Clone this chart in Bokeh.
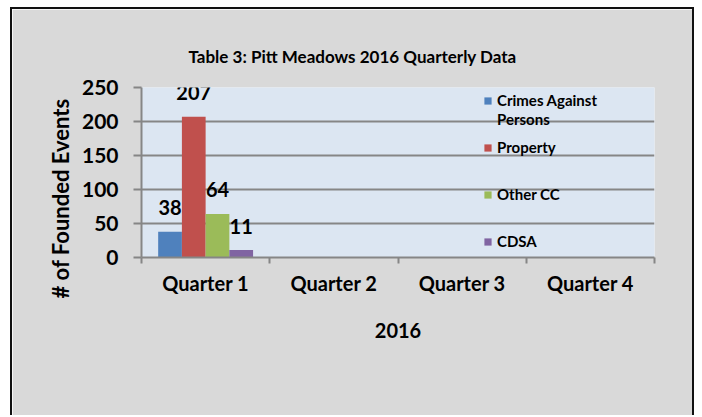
from bokeh.plotting import figure
from bokeh.models import (ColumnDataSource, FactorRange, Range1d, LinearAxis,
                          FixedTicker, Legend, LegendItem, LabelSet, Title)
from bokeh.transform import dodge
from bokeh.core.properties import value
from bokeh.embed import file_html
from bokeh.resources import INLINE

# ---------------- data ----------------
chart_title = "Table 3: Pitt Meadows 2016 Quarterly Data"
quarters = ["Quarter 1", "Quarter 2", "Quarter 3", "Quarter 4"]
series_labels = ["Crimes Against", "Property", "Other CC", "CDSA"]
first_label_continuation = "Persons"
crimes_against_persons = [38, None, None, None]
property_crimes = [207, None, None, None]
other_cc = [64, None, None, None]
cdsa = [11, None, None, None]
y_ticks = [0, 50, 100, 150, 200, 250]
x_title = "2016"
y_title = "# of Founded Events"
colors = ["#4f81bd", "#c0504d", "#9bbb59", "#8064a2"]

FONT = "Lato"
GRID = "#868686"

series = [crimes_against_persons, property_crimes, other_cc, cdsa]
rows = [i for i in range(len(quarters)) if any(s[i] is not None for s in series)]
data = {"quarter": [quarters[i] for i in rows]}
for k, s in enumerate(series):
    data[f"s{k}"] = [s[i] for i in rows]
    data[f"t{k}"] = [str(s[i]) for i in rows]
source = ColumnDataSource(data)

p = figure(x_range=FactorRange(factors=quarters, range_padding=0),
           y_range=Range1d(0, 250),
           width=684, height=408, output_backend="svg", toolbar_location=None,
           min_border_left=129, min_border_right=42, min_border_top=78,
           min_border_bottom=160,
           background_fill_color="#dce6f2", border_fill_color="#d9d9d9",
           outline_line_color=None)
p.styles = {"margin-left": "10px", "margin-top": "7px",
            "border-top": "2px solid #111111", "border-left": "2px solid #111111",
            "border-right": "2px solid #111111"}

p.title.text = chart_title
p.title.align = "left"
p.title.offset = 47
p.title.standoff = 42
p.title.text_font = FONT
p.title.text_font_size = "17px"
p.title.text_font_style = "bold"
p.title.text_color = "black"

# y axis
p.yaxis.ticker = FixedTicker(ticks=y_ticks)
p.yaxis.major_label_text_font = FONT
p.yaxis.major_label_text_font_size = "21px"
p.yaxis.major_label_text_font_style = "bold"
p.yaxis.major_label_text_color = "black"
p.yaxis.major_tick_in = 0
p.yaxis.major_tick_out = 8
p.yaxis.major_tick_line_color = GRID
p.yaxis.major_tick_line_width = 2
p.yaxis.minor_tick_line_color = None
p.yaxis.axis_line_color = GRID
p.yaxis.axis_line_width = 2
p.yaxis.major_label_standoff = 15
p.ygrid.grid_line_color = GRID
p.ygrid.grid_line_width = 2
p.xgrid.grid_line_color = None

# y axis title (placed in the left panel, starting below the frame like the reference)
p.add_layout(Title(text=y_title, align="left", offset=-41, standoff=9,
                   text_font=FONT, text_font_size="22px", text_font_style="bold",
                   text_color="black"), "left")

# x axis (categorical labels)
cat_axis = p.xaxis[0]
cat_axis.major_tick_line_color = None
cat_axis.axis_line_color = None
cat_axis.major_label_text_font = FONT
cat_axis.major_label_text_font_size = "20px"
cat_axis.major_label_text_font_style = "bold"
cat_axis.major_label_text_color = "black"
cat_axis.major_label_standoff = 1
cat_axis.axis_label = x_title
cat_axis.axis_label_text_font = FONT
cat_axis.axis_label_text_font_size = "20px"
cat_axis.axis_label_text_font_style = "bold"
cat_axis.axis_label_text_color = "black"
cat_axis.axis_label_standoff = 25

# boundary tick marks between categories (synthetic coordinates 0..4)
tick_axis = LinearAxis(ticker=FixedTicker(ticks=list(range(len(quarters) + 1))),
                       major_label_text_font_size="0px", major_label_text_color=None,
                       major_label_standoff=0,
                       major_tick_in=0, major_tick_out=6,
                       major_tick_line_color=GRID, major_tick_line_width=2,
                       minor_tick_line_color=None,
                       axis_line_color=GRID, axis_line_width=2)
p.below = [tick_axis, cat_axis]

# bars
width = 0.185
offsets = [-1.5 * width, -0.5 * width, 0.5 * width, 1.5 * width]
items = []
for k in range(4):
    r = p.vbar(x=dodge("quarter", offsets[k], range=p.x_range), top=f"s{k}",
               width=width, source=source, color=colors[k], line_color=None)
    items.append(LegendItem(label=series_labels[k], renderers=[r]))
    p.add_layout(LabelSet(x=dodge("quarter", offsets[k], range=p.x_range),
                          y=f"s{k}", text=f"t{k}", source=source,
                          y_offset=24, text_align="center", text_baseline="middle",
                          text_font=value(FONT), text_font_size="20px",
                          text_font_style="bold", text_color="black"))

legend_style = dict(orientation="vertical", background_fill_alpha=0,
                    border_line_color=None, padding=0, margin=0,
                    label_height=20, glyph_width=9, glyph_height=9,
                    label_standoff=5, label_text_font=FONT,
                    label_text_font_size="15px", label_text_font_style="bold",
                    label_text_color="black")
legend = Legend(items=items, location=(342, 6), spacing=27, **legend_style)
p.add_layout(legend, "center")

# second line of the first legend entry (no swatch)
ghost = p.vbar(x=dodge("quarter", offsets[0], range=p.x_range), top="s0",
               width=width, source=source, fill_alpha=0, line_alpha=0)
legend2 = Legend(items=[LegendItem(label=first_label_continuation, renderers=[ghost])],
                 location=(342, 128), spacing=0, **legend_style)
p.add_layout(legend2, "center")

open("out.html", "w").write(file_html(p, INLINE))
